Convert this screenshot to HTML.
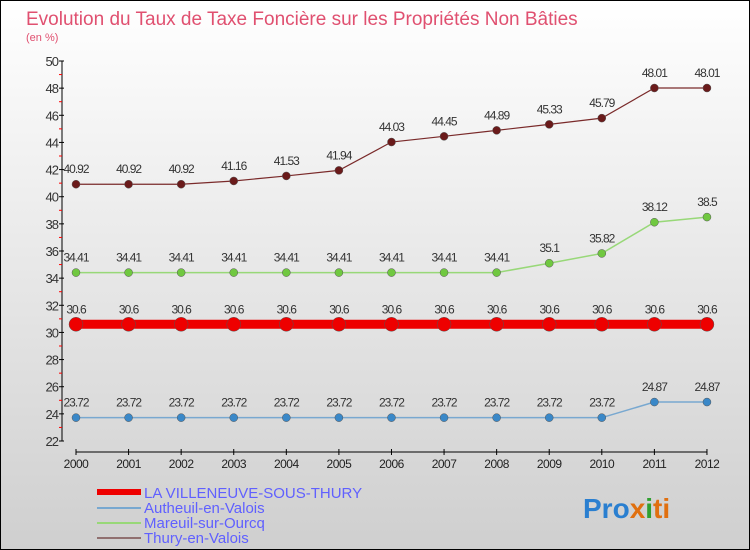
<!DOCTYPE html>
<html><head><meta charset="utf-8"><style>
body{margin:0}
#c{width:748px;height:548px;border:1px solid #000;background:linear-gradient(#fff,#cfcfcf);position:relative;font-family:"Liberation Sans",sans-serif;overflow:hidden}
</style></head><body>
<div id="c">
<svg id="s" width="748" height="548" style="position:absolute;left:0;top:0">
<text x="25" y="24" font-size="19" fill="#e05070">Evolution du Taux de Taxe Foncière sur les Propriétés Non Bâties</text>
<text x="25" y="40" font-size="11" fill="#e05070">(en %)</text>
<g id="ax"></g><g id="ser"></g>
<g font-size="15" fill="#6060ff">
<rect x="96" y="488" width="44" height="6" fill="#e00"/>
<text x="143" y="497">LA VILLENEUVE-SOUS-THURY</text>
<rect x="96" y="506" width="44" height="2" fill="#78a8d0"/>
<text x="143" y="512">Autheuil-en-Valois</text>
<rect x="96" y="521" width="44" height="2" fill="#98d878"/>
<text x="143" y="527">Mareuil-sur-Ourcq</text>
<rect x="96" y="536" width="44" height="2" fill="#907070"/>
<text x="143" y="542">Thury-en-Valois</text>
</g>
<text x="582" y="517" font-size="28" font-weight="bold"><tspan fill="#2a7fd0">Pro</tspan><tspan fill="#e07010">x</tspan><tspan fill="#30a030">i</tspan><tspan fill="#e07010">ti</tspan></text>
</svg></div>
<script>
const years=[2000,2001,2002,2003,2004,2005,2006,2007,2008,2009,2010,2011,2012];
const villeneuve=[30.6,30.6,30.6,30.6,30.6,30.6,30.6,30.6,30.6,30.6,30.6,30.6,30.6];
const autheuil=[23.72,23.72,23.72,23.72,23.72,23.72,23.72,23.72,23.72,23.72,23.72,24.87,24.87];
const mareuil=[34.41,34.41,34.41,34.41,34.41,34.41,34.41,34.41,34.41,35.1,35.82,38.12,38.5];
const thury=[40.92,40.92,40.92,41.16,41.53,41.94,44.03,44.45,44.89,45.33,45.79,48.01,48.01];
const yTicks=[22,24,26,28,30,32,34,36,38,40,42,44,46,48,50];
const NS="http://www.w3.org/2000/svg";
const X=i=>75+i*52.58, Y=v=>440-(v-22)*(380/28);
function mk(t,a,p){const e=document.createElementNS(NS,t);for(const k in a)e.setAttribute(k,a[k]);p.appendChild(e);return e;}
const ax=document.getElementById('ax'),ser=document.getElementById('ser');
const yl=mk('line',{x1:61,y1:60,x2:61,y2:440,stroke:'#000'},ax);


const xl=mk('line',{x1:75,y1:451,x2:706,y2:451,stroke:'#000'},ax);


yTicks.forEach(v=>{mk('line',{x1:58,x2:63,y1:Y(v),y2:Y(v),stroke:'#000'},ax);
 if(v<50)mk('line',{x1:58,x2:61,y1:Y(v+1),y2:Y(v+1),stroke:'#f00'},ax);
 const t=mk('text',{x:57,y:Y(v)+5,'text-anchor':'end','font-size':13,fill:'#333','letter-spacing':'-1'},ax);t.textContent=v;
 
 });
years.forEach((y,i)=>{mk('line',{x1:X(i),x2:X(i),y1:448,y2:454,stroke:'#000'},ax);
 const t=mk('text',{x:X(i),y:467,'text-anchor':'middle','font-size':12,fill:'#222','letter-spacing':'-0.5'},ax);t.textContent=y;
 
 });
function series(d,col,w,r,name,dot){
 const pl=mk('polyline',{points:d.map((v,i)=>X(i)+','+Y(v)).join(' '),fill:'none',stroke:col,'stroke-width':w},ser);
 
 
 d.forEach((v,i)=>{const c=mk('circle',{cx:X(i),cy:Y(v),r:r,fill:dot,stroke:'#555','stroke-width':0.5},ser);
  
  
  const t=mk('text',{x:X(i),y:Y(v)-11,'text-anchor':'middle','font-size':12,fill:'#333','letter-spacing':'-1'},ser);t.textContent=v;
  
  });
}
series(thury,'#7a2a2a',1.2,4,'thury','#6a1a1a');
series(mareuil,'#98d878',1.5,4,'mareuil','#70c840');
series(autheuil,'#78a8d0',1.5,4,'autheuil','#3a88c8');
series(villeneuve,'#e00',9,7,'villeneuve','#e00');
</script>
</body></html>
